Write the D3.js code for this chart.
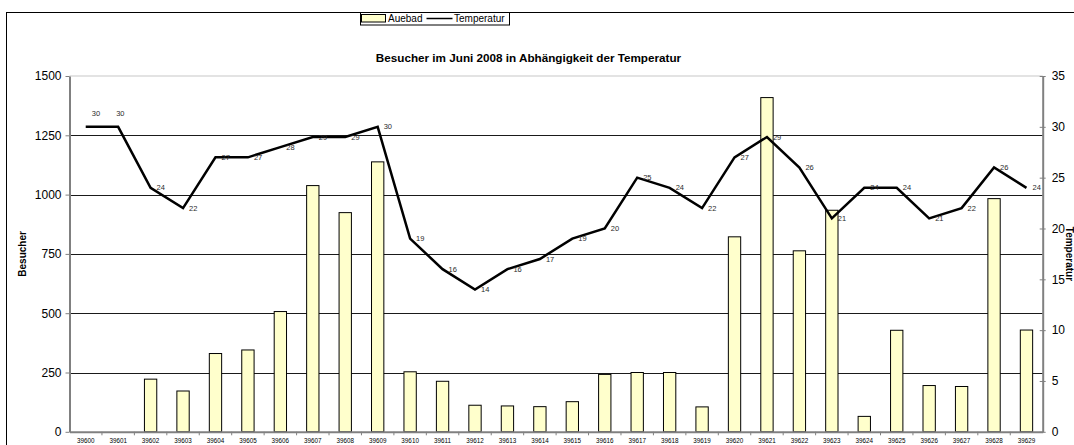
<!DOCTYPE html>
<html>
<head>
<meta charset="utf-8">
<script src="https://cdn.jsdelivr.net/npm/d3@7"></script>
<style>
    body { margin: 0; background: #fff; }
    svg { display: block; font-family: Arial, "Liberation Sans", sans-serif; }
</style>
</head>
<body>
<div id="chart"></div>
<script>
// chart values
var days = ["39600", "39601", "39602", "39603", "39604", "39605", "39606", "39607", "39608", "39609",
    "39610", "39611", "39612", "39613", "39614", "39615", "39616", "39617", "39618", "39619",
    "39620", "39621", "39622", "39623", "39624", "39625", "39626", "39627", "39628", "39629"];
var besucher = [0, 0, 222, 172, 330, 345, 507, 1038, 924, 1138,
    253, 213, 112, 109, 106, 127, 242, 250, 250, 105,
    822, 1409, 763, 934, 65, 428, 195, 191, 983, 429];
var temperatur = [30, 30, 24, 22, 27, 27, 28, 29, 29, 30,
    19, 16, 14, 16, 17, 19, 20, 25, 24, 22,
    27, 29, 26, 21, 24, 24, 21, 22, 26, 24];
var besucherTicks = [0, 250, 500, 750, 1000, 1250, 1500];
var tempTicks = [0, 5, 10, 15, 20, 25, 30, 35];

var chartTitle = "Besucher im Juni 2008 in Abhängigkeit der Temperatur";
var seriesNames = ["Auebad", "Temperatur"];

var W = 1074, H = 445;
// note: "top" is taken by window.top, so plot edges get their own names
var plotL = 69.5, plotR = 1042.7, plotT = 76, plotB = 431.8;

var svg = d3.select("#chart").append("svg").attr("width", W).attr("height", H);

// outer chart frame (runs off the picture to the right and bottom)
svg.append("rect")
    .attr("x", 6.5).attr("y", 12.5)
    .attr("width", 1200).attr("height", 600)
    .attr("fill", "none").attr("stroke", "#000").attr("stroke-width", 1);

var x = d3.scaleBand()
    .domain(days)
    .range([plotL, plotR])
    .paddingInner(0.62)
    .paddingOuter(0.31);

var y = d3.scaleLinear().domain([0, 1500]).range([plotB, plotT]);
var y2 = d3.scaleLinear().domain([0, 35]).range([plotB, plotT]);

// half of the gap so we can find category boundaries and centres
var gap = (x.step() - x.bandwidth()) / 2;
function cx(d) { return x(d) + x.bandwidth() / 2; }

// gridlines
svg.append("g").selectAll("line")
    .data(besucherTicks.filter(function (t) { return t > 0 && t < 1500; }))
    .enter().append("line")
    .attr("x1", plotL).attr("x2", plotR)
    .attr("y1", function (t) { return Math.round(y(t)) + 0.5; })
    .attr("y2", function (t) { return Math.round(y(t)) + 0.5; })
    .attr("stroke", "#1a1a1a").attr("stroke-width", 1);

// top border of the plot area is a light grey
svg.append("line")
    .attr("x1", plotL).attr("x2", plotR)
    .attr("y1", y(1500)).attr("y2", y(1500))
    .attr("stroke", "#e3e3e3").attr("stroke-width", 2);

// bars
svg.append("g").selectAll("rect")
    .data(besucher)
    .enter().append("rect")
    .attr("x", function (d, i) { return x(days[i]); })
    .attr("y", function (d) { return y(d); })
    .attr("width", x.bandwidth())
    .attr("height", function (d) { return y(0) - y(d); })
    .attr("fill", function (d) { return d > 0 ? "#ffffcc" : "none"; })
    .attr("stroke", function (d) { return d > 0 ? "#000" : "none"; })
    .attr("stroke-width", 1);

// left axis
var axL = svg.append("g")
    .attr("transform", "translate(" + plotL + ",0)")
    .call(d3.axisLeft(y).tickValues(besucherTicks).tickFormat(d3.format("d"))
        .tickSize(4).tickSizeOuter(0).tickPadding(4));
axL.select(".domain").attr("stroke", "#808080").attr("stroke-width", 2);
axL.selectAll(".tick line").attr("stroke", "#808080");
axL.selectAll("text").attr("font-size", 12).attr("font-family", "Arial, 'Liberation Sans', sans-serif").attr("fill", "#000");

// right axis, ticks cross the line
var axR = svg.append("g")
    .attr("transform", "translate(" + plotR + ",0)")
    .call(d3.axisRight(y2).tickValues(tempTicks).tickSize(3).tickSizeOuter(0).tickPadding(6));
axR.select(".domain").attr("stroke", "#808080").attr("stroke-width", 2);
axR.selectAll(".tick line").attr("x1", -3).attr("stroke", "#808080");
axR.selectAll("text").attr("font-size", 12).attr("font-family", "Arial, 'Liberation Sans', sans-serif").attr("fill", "#000");

// bottom axis
var axB = svg.append("g")
    .attr("transform", "translate(0," + plotB + ")")
    .call(d3.axisBottom(x).tickSize(0).tickSizeOuter(0).tickPadding(7));
axB.select(".domain").attr("stroke", "#808080").attr("stroke-width", 2);
axB.selectAll("text").attr("font-size", 6.3).attr("font-family", "Arial, 'Liberation Sans', sans-serif").attr("fill", "#000");

// category boundary ticks under the axis
svg.append("g").selectAll("line")
    .data(days.slice(1))
    .enter().append("line")
    .attr("x1", function (d) { return x(d) - gap; })
    .attr("x2", function (d) { return x(d) - gap; })
    .attr("y1", plotB).attr("y2", plotB + 3.5)
    .attr("stroke", "#808080");

// temperature line
var line = d3.line()
    .x(function (d, i) { return cx(days[i]); })
    .y(function (d) { return y2(d); });

svg.append("path")
    .datum(temperatur)
    .attr("d", line)
    .attr("fill", "none")
    .attr("stroke", "#000")
    .attr("stroke-width", 2.5)
    .attr("stroke-linejoin", "miter");

// point labels, first two were moved above the line in the original
svg.append("g").selectAll("text")
    .data(temperatur)
    .enter().append("text")
    .attr("x", function (d, i) {
        if (i === 0) return cx(days[i]) + 6;
        if (i === 1) return cx(days[i]) - 2;
        return cx(days[i]) + 6;
    })
    .attr("y", function (d, i) {
        if (i < 2) return y2(d) - 13;
        return y2(d);
    })
    .attr("dy", "0.35em")
    .attr("font-size", 7.5)
    .attr("fill", "#2b2b2b")
    .text(function (d) { return d; });

// title
svg.append("text")
    .attr("x", 528.5).attr("y", 62)
    .attr("text-anchor", "middle")
    .attr("font-size", 11.7).attr("font-weight", "bold")
    .text(chartTitle);

// axis titles
svg.append("text")
    .attr("transform", "translate(25.5," + ((plotT + plotB) / 2) + ") rotate(-90)")
    .attr("text-anchor", "middle")
    .attr("font-size", 10).attr("font-weight", "bold")
    .text("Besucher");

svg.append("text")
    .attr("transform", "translate(1066," + ((plotT + plotB) / 2) + ") rotate(90)")
    .attr("text-anchor", "middle")
    .attr("font-size", 10).attr("font-weight", "bold")
    .text("Temperatur");

// legend
var lg = svg.append("g");
lg.append("rect")
    .attr("x", 360.5).attr("y", 12.5).attr("width", 149).attr("height", 12.5)
    .attr("fill", "#fff").attr("stroke", "#000");
lg.append("rect")
    .attr("x", 361.5).attr("y", 14.5).attr("width", 24).attr("height", 7.5)
    .attr("fill", "#ffffcc").attr("stroke", "#000");
lg.append("text")
    .attr("x", 388).attr("y", 22)
    .attr("font-size", 10)
    .text(seriesNames[0]);
lg.append("line")
    .attr("x1", 426.5).attr("x2", 452.5).attr("y1", 18.5).attr("y2", 18.5)
    .attr("stroke", "#000").attr("stroke-width", 1.5);
lg.append("text")
    .attr("x", 454).attr("y", 22)
    .attr("font-size", 10)
    .text(seriesNames[1]);
</script>
</body>
</html>
